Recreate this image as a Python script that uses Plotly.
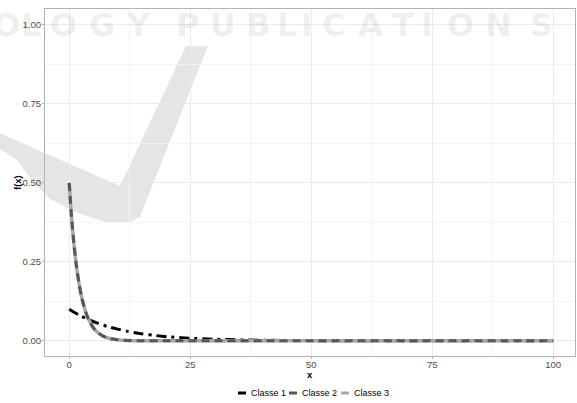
import plotly.graph_objects as go

# ---- data ----
x_class1 = [0, 2, 4, 6, 8, 10, 12, 15, 18, 21, 25, 30, 35, 40, 50, 60, 70, 80, 90, 100]
y_class1 = [0.100, 0.082, 0.067, 0.055, 0.045, 0.037, 0.030, 0.022, 0.0165, 0.012,
            0.0082, 0.005, 0.003, 0.0018, 0.0007, 0.00025, 0.0001, 0.00003, 0.00001, 0.0]

x_class23 = [0, 0.5, 1, 1.5, 2, 2.5, 3, 3.5, 4, 5, 6, 7, 8, 9, 10, 12, 15, 20,
             30, 40, 50, 60, 70, 80, 90, 100]
y_class2 = [0.500, 0.389, 0.303, 0.236, 0.184, 0.143, 0.112, 0.087, 0.068, 0.041,
            0.025, 0.015, 0.009, 0.0056, 0.0034, 0.0012, 0.0003, 0.0,
            0.0, 0.0, 0.0, 0.0, 0.0, 0.0, 0.0, 0.0]
y_class3 = list(y_class2)

series_names = ["Classe 1", "Classe 2", "Classe 3"]
series_colors = ["#000000", "#575757", "#a8a8a8"]

x_ticks = [0, 25, 50, 75, 100]
y_ticks = [0.0, 0.25, 0.5, 0.75, 1.0]
x_title = "x"
y_title = "f(x)"

# ---- layout geometry ----
W, H = 577, 403
ML, MR, MT, MB = 45, 2, 9, 47
PW, PH = W - ML - MR, H - MT - MB


def px(xp):
    return (xp - ML) / PW


def py(yp):
    return (H - MB - yp) / PH


FONT = "Liberation Sans, Arial, sans-serif"

fig = go.Figure()

fig.add_trace(go.Scatter(
    x=x_class1, y=y_class1, mode="lines", name=series_names[0],
    line=dict(color=series_colors[0], width=3, dash="10px,5px,3px,5px",
              shape="spline", smoothing=0.8),
    showlegend=False, hoverinfo="skip"))
fig.add_trace(go.Scatter(
    x=x_class23, y=y_class3, mode="lines", name=series_names[2],
    line=dict(color=series_colors[2], width=3.5, shape="spline", smoothing=0.8),
    showlegend=False, hoverinfo="skip"))
fig.add_trace(go.Scatter(
    x=x_class23, y=y_class2, mode="lines", name=series_names[1],
    line=dict(color=series_colors[1], width=3, dash="8px,5px",
              shape="spline", smoothing=0.8),
    showlegend=False, hoverinfo="skip"))

# ---- faint publisher watermark (background decoration) ----
v_pts = [(-5, 131), (120, 186), (186, 46), (208, 46), (140, 217),
         (128, 223), (105, 222), (75, 212), (50, 199), (30, 178), (17, 160), (-5, 146)]
path = "M " + " L ".join(f"{px(a):.4f},{py(b):.4f}" for a, b in v_pts) + " Z"
shapes = [dict(type="path", path=path, xref="paper", yref="paper",
               fillcolor="rgba(0,0,0,0.10)", line=dict(width=0), layer="below")]

annotations = []
wm_letters = "OLOGYPUBLICATIONS"
wm_centers = [6, 31, 63, 102, 138, 187, 223, 258, 287, 307, 333, 370, 403, 427, 460, 498, 541]
for ch, cx in zip(wm_letters, wm_centers):
    annotations.append(dict(
        text=ch, x=px(cx), y=py(25), xref="paper", yref="paper",
        xanchor="center", yanchor="middle", showarrow=False,
        font=dict(family="DejaVu Sans", size=32, color="rgba(0,0,0,0.08)", weight="bold")))

# ---- axis titles ----
annotations.append(dict(text=f"<b>{x_title}</b>", x=px(310), y=py(374.5),
                        xref="paper", yref="paper", xanchor="center", yanchor="middle",
                        showarrow=False, font=dict(family=FONT, size=9.5, color="#000000")))
annotations.append(dict(text=f"<b>{y_title}</b>", x=px(17.5), y=py(182.5), textangle=-90,
                        xref="paper", yref="paper", xanchor="center", yanchor="middle",
                        showarrow=False, font=dict(family=FONT, size=9.5, color="#000000")))

# ---- manual legend (ggplot-style short keys) ----
leg_y = py(393)
key_x = [(238, 246), (289, 297), (341, 349)]
txt_x = [249, 300, 352]
for (a, b), tx, name, col in zip(key_x, txt_x, series_names, series_colors):
    shapes.append(dict(type="line", xref="paper", yref="paper",
                       x0=px(a), x1=px(b), y0=leg_y, y1=leg_y,
                       line=dict(color=col, width=3)))
    annotations.append(dict(text=name, x=px(tx), y=leg_y, xref="paper", yref="paper",
                            xanchor="left", yanchor="middle", showarrow=False,
                            font=dict(family=FONT, size=9, color="#000000")))

axis_common = dict(
    showline=True, mirror=True, linecolor="#b3b3b3", linewidth=1,
    ticks="outside", ticklen=2, tickcolor="#b3b3b3", tickwidth=1,
    tickfont=dict(family=FONT, size=9.5, color="#4d4d4d"),
    showgrid=True, gridcolor="#ebebeb", gridwidth=1, zeroline=False,
)

fig.update_layout(
    width=W, height=H,
    margin=dict(l=ML, r=MR, t=MT, b=MB, autoexpand=False),
    paper_bgcolor="white", plot_bgcolor="rgba(0,0,0,0)",
    showlegend=False,
    shapes=shapes, annotations=annotations,
    xaxis=dict(range=[-5, 104.5], tickvals=x_ticks, ticktext=[str(v) for v in x_ticks],
               ticklabelstandoff=-2,
               minor=dict(dtick=12.5, tick0=0, showgrid=True, gridcolor="#f4f4f4",
                          gridwidth=1, ticks=""),
               **axis_common),
    yaxis=dict(range=[-0.048, 1.05], tickvals=y_ticks, ticktext=[f"{v:.2f}" for v in y_ticks],
               ticklabelstandoff=-1,
               minor=dict(dtick=0.125, tick0=0, showgrid=True, gridcolor="#f4f4f4",
                          gridwidth=1, ticks=""),
               **axis_common),
)

fig.write_html("out.html", config={"displayModeBar": False},
               post_script="document.body.style.margin='0';")
